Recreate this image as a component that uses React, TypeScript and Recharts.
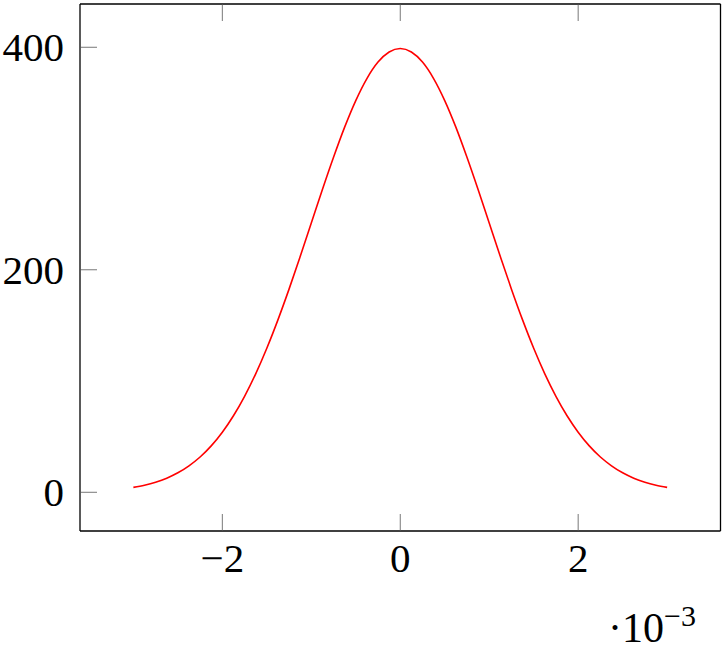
import { LineChart, Line, XAxis, YAxis } from "recharts";

// x in units of 10^-3
const xValues = [
  -3, -2.875, -2.75, -2.625, -2.5, -2.375, -2.25, -2.125, -2, -1.875, -1.75,
  -1.625, -1.5, -1.375, -1.25, -1.125, -1, -0.875, -0.75, -0.625, -0.5, -0.375,
  -0.25, -0.125, 0, 0.125, 0.25, 0.375, 0.5, 0.625, 0.75, 0.875, 1, 1.125, 1.25,
  1.375, 1.5, 1.625, 1.75, 1.875, 2, 2.125, 2.25, 2.375, 2.5, 2.625, 2.75, 2.875,
  3,
];
const yValues = [
  4.4, 6.4, 9.1, 12.7, 17.5, 23.8, 31.7, 41.7, 54.0, 68.8, 86.3, 106.5, 129.5,
  155.0, 182.6, 211.9, 242.0, 272.1, 301.1, 328.2, 352.1, 371.9, 386.7, 395.8,
  398.9, 395.8, 386.7, 371.9, 352.1, 328.2, 301.1, 272.1, 242.0, 211.9, 182.6,
  155.0, 129.5, 106.5, 86.3, 68.8, 54.0, 41.7, 31.7, 23.8, 17.5, 12.7, 9.1, 6.4,
  4.4,
];
const xTicks = [-2, 0, 2];
const yTicks = [0, 200, 400];
const xDomain = [-3.6, 3.6];
const yDomain = [-34.8, 438.9];

const data = xValues.map((x, i) => ({ x, y: yValues[i] }));

const FONT = "'Liberation Serif', 'DejaVu Serif', serif";
const TICK_LEN = 17;
const TICK_COLOR = "#555";

const fmt = (v: number) => (v < 0 ? `\u2212${Math.abs(v)}` : `${v}`);

const BottomTick = (props: any) => {
  const { x, y, payload } = props;
  return (
    <g>
      <line x1={x} y1={y} x2={x} y2={y - TICK_LEN} stroke={TICK_COLOR} strokeWidth={0.8} />
      <text x={x} y={y + 41} textAnchor="middle" fontFamily={FONT} fontSize={41} fill="#000">
        {fmt(payload.value)}
      </text>
    </g>
  );
};

const TopTick = (props: any) => {
  const { x, y } = props;
  return <line x1={x} y1={y} x2={x} y2={y + TICK_LEN} stroke={TICK_COLOR} strokeWidth={0.8} />;
};

const LeftTick = (props: any) => {
  const { x, y, payload } = props;
  return (
    <g>
      <line x1={x} y1={y} x2={x + TICK_LEN} y2={y} stroke={TICK_COLOR} strokeWidth={0.8} />
      <text x={x - 16} y={y + 14} textAnchor="end" fontFamily={FONT} fontSize={41} fill="#000">
        {fmt(payload.value)}
      </text>
    </g>
  );
};

const RightTick = (props: any) => {
  const { x, y } = props;
  return <line x1={x} y1={y} x2={x - TICK_LEN} y2={y} stroke={TICK_COLOR} strokeWidth={0.8} />;
};

const ScaleLabel = (props: any) => {
  const vb = props.viewBox || {};
  return (
    <text x={608} y={vb.y + 111} fontFamily={FONT} fontSize={42} fill="#000">
      <tspan>{"\u00b710"}</tspan>
      <tspan dy={-16} fontSize={30}>
        {"\u22123"}
      </tspan>
    </text>
  );
};

const axisLine = { stroke: "#000", strokeWidth: 1.3 };

export default function App() {
  return (
    <div style={{ width: 726, height: 651, background: "#fff" }}>
      <style>{"body{margin:0}"}</style>
      <LineChart
        width={726}
        height={651}
        data={data}
        margin={{ top: 3, right: 4.5, bottom: 60, left: 8 }}
      >
        <XAxis
          xAxisId="bottom"
          dataKey="x"
          type="number"
          domain={xDomain}
          ticks={xTicks}
          height={60}
          axisLine={axisLine}
          tickLine={false}
          tickSize={0}
          tickMargin={0}
          tick={<BottomTick />}
          interval={0}
          label={{ content: <ScaleLabel /> }}
        />
        <XAxis
          xAxisId="top"
          orientation="top"
          dataKey="x"
          type="number"
          domain={xDomain}
          ticks={xTicks}
          height={1}
          axisLine={axisLine}
          tickLine={false}
          tickSize={0}
          tickMargin={0}
          tick={<TopTick />}
          interval={0}
        />
        <YAxis
          yAxisId="left"
          type="number"
          domain={yDomain}
          ticks={yTicks}
          width={72}
          axisLine={axisLine}
          tickLine={false}
          tickSize={0}
          tickMargin={0}
          tick={<LeftTick />}
          interval={0}
        />
        <YAxis
          yAxisId="right"
          orientation="right"
          type="number"
          domain={yDomain}
          ticks={yTicks}
          width={1}
          axisLine={axisLine}
          tickLine={false}
          tickSize={0}
          tickMargin={0}
          tick={<RightTick />}
          interval={0}
        />
        <Line
          xAxisId="bottom"
          yAxisId="left"
          dataKey="y"
          type="monotone"
          stroke="#ff0000"
          strokeWidth={1.6}
          dot={false}
          isAnimationActive={false}
        />
      </LineChart>
    </div>
  );
}
